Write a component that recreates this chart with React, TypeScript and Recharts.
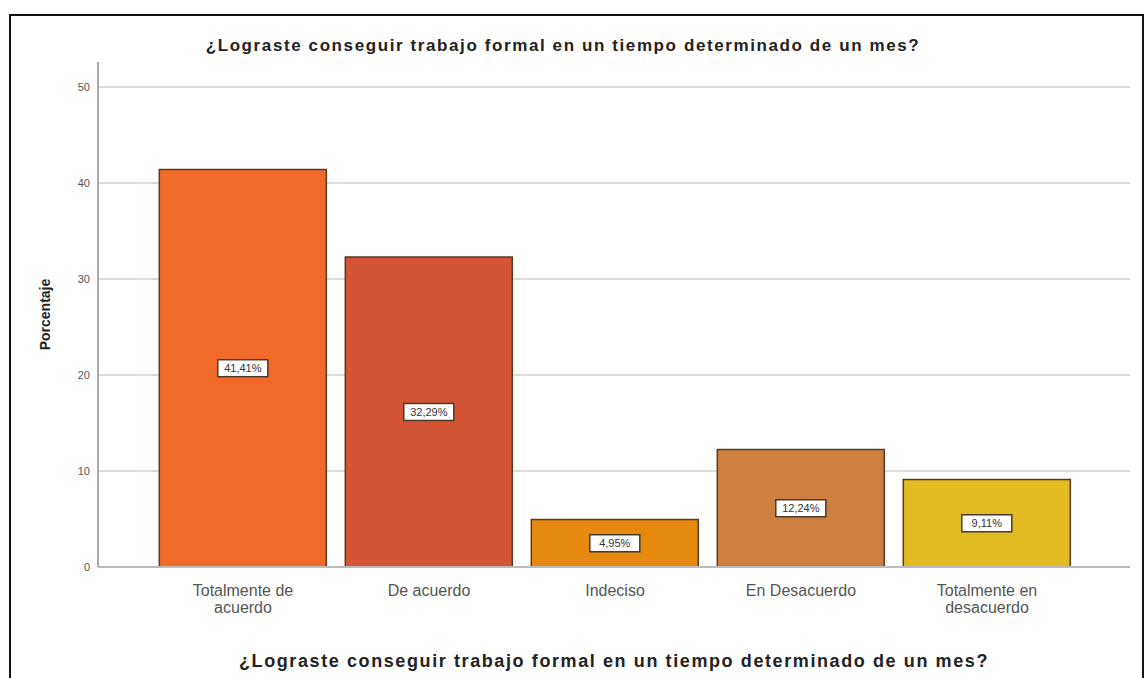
import React from 'react';
import { BarChart, Bar, XAxis, YAxis, CartesianGrid, Cell, LabelList } from 'recharts';

const categories = [
  'Totalmente de\nacuerdo',
  'De acuerdo',
  'Indeciso',
  'En Desacuerdo',
  'Totalmente en\ndesacuerdo',
];
const percentages = [41.41, 32.29, 4.95, 12.24, 9.11];
const barColors = ['#F26A2A', '#D35535', '#E5890F', '#CD7F3F', '#E2BA21'];
const yTicks = [0, 10, 20, 30, 40, 50];

const title = '¿Lograste conseguir trabajo formal en un tiempo determinado de un mes?';

const data = categories.map((name, i) => ({ name, value: percentages[i] }));

const fmt = (v: number) => v.toFixed(2).replace('.', ',') + '%';

const FONT = 'Liberation Sans, Arial, sans-serif';

// two-line category labels
const CategoryTick = (props: any) => {
  const { x, y, payload } = props;
  const lines = String(payload.value).split('\n');
  return (
    <text x={x} y={y + 7} textAnchor="middle" fill="#555" fontSize={16} fontFamily={FONT}>
      {lines.map((l, i) => (
        <tspan key={i} x={x} dy={i === 0 ? 14 : 17}>{l}</tspan>
      ))}
    </text>
  );
};

// boxed percentage label in the middle of the bar
const BoxLabel = (props: any) => {
  const { x, y, width, height, value } = props;
  const cx = x + width / 2;
  const cy = y + height / 2;
  const w = 50;
  const h = 17;
  return (
    <g>
      <rect x={cx - w / 2} y={cy - h / 2} width={w} height={h} fill="#fff" stroke="#4a3a2a" strokeWidth={1.5} />
      <text x={cx} y={cy + 4} textAnchor="middle" fontSize={11} fill="#333" fontFamily={FONT}>
        {fmt(value)}
      </text>
    </g>
  );
};

export default function App() {
  return (
    <div style={{ position: 'fixed', left: 0, top: 0, width: 1146, height: 678, background: '#fff', overflow: 'hidden' }}>
      <div style={{ position: 'absolute', left: 9, top: 14, width: 1131, height: 700, border: '2px solid #111' }} />
      <div
        style={{
          position: 'absolute',
          left: 98,
          width: 930,
          top: 36,
          textAlign: 'center',
          fontFamily: FONT,
          fontWeight: 'bold',
          fontSize: 17,
          letterSpacing: 1.6,
          color: '#222',
        }}
      >
        {title}
      </div>
      <div style={{ position: 'absolute', left: 0, top: 0 }}>
        <BarChart
          width={1146}
          height={678}
          data={data}
          margin={{ top: 62, right: 16, bottom: 9, left: 58 }}
          barCategoryGap="5%"
        >
          <CartesianGrid vertical={false} stroke="#dcdcdc" strokeWidth={2} syncWithTicks />
          <XAxis
            dataKey="name"
            tick={<CategoryTick />}
            tickLine={false}
            axisLine={{ stroke: '#bbb', strokeWidth: 2 }}
            padding={{ left: 52, right: 50 }}
            interval={0}
            height={102}
            label={{
              value: title,
              position: 'insideBottom',
              offset: 2,
              fill: '#222',
              fontSize: 18,
              fontWeight: 'bold',
              letterSpacing: 1.6,
              fontFamily: FONT,
            }}
          />
          <YAxis
            domain={[0, 52.6]}
            ticks={yTicks}
            width={40}
            tickLine={false}
            axisLine={{ stroke: '#aaa', strokeWidth: 2 }}
            tick={{ fill: '#555', fontSize: 11, fontFamily: FONT }}
            tickMargin={2}
            label={{
              value: 'Porcentaje',
              angle: -90,
              position: 'insideLeft',
              offset: -13,
              style: { textAnchor: 'middle' },
              fill: '#222',
              fontSize: 14,
              fontWeight: 'bold',
              fontFamily: FONT,
            }}
          />
          <Bar dataKey="value" stroke="#5a3b22" strokeWidth={1.5} isAnimationActive={false}>
            {data.map((d, i) => (
              <Cell key={d.name} fill={barColors[i]} />
            ))}
            <LabelList dataKey="value" content={<BoxLabel />} />
          </Bar>
        </BarChart>
      </div>
    </div>
  );
}
